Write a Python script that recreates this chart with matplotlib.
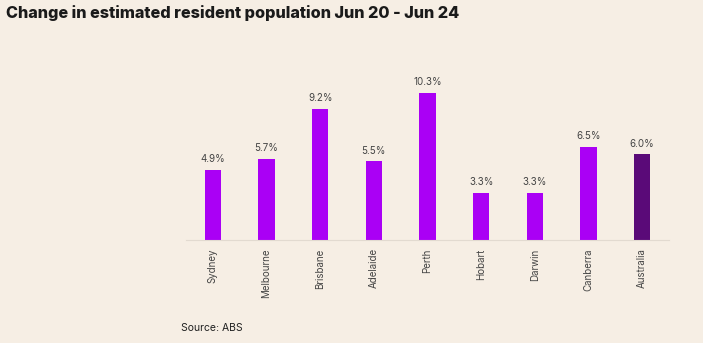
import matplotlib
matplotlib.use('Agg')
import matplotlib.pyplot as plt

cities = ['Sydney', 'Melbourne', 'Brisbane', 'Adelaide', 'Perth', 'Hobart', 'Darwin', 'Canberra', 'Australia']
growth = [4.9, 5.7, 9.2, 5.5, 10.3, 3.3, 3.3, 6.5, 6.0]

bg = '#f6eee4'
colors = ['#aa00f5'] * 8 + ['#5a0a78']

plt.rcParams['font.family'] = ['Inter', 'DejaVu Sans']

fig = plt.figure(figsize=(7.03, 3.43), dpi=100, facecolor=bg)
ax = fig.add_axes([0.2646, 0.3003, 0.687, 0.5248], facecolor=bg)

bars = ax.bar(range(len(cities)), growth, width=0.3, color=colors)
for bar, v in zip(bars, growth):
    ax.text(bar.get_x() + bar.get_width() / 2, v + 0.4, f'{v:.1f}%', ha='center', va='bottom',
            fontsize=7, color='#444444')

ax.set_xlim(-0.5, len(cities) - 0.5)
ax.set_ylim(0, 12.6)
ax.set_yticks([])
ax.set_xticks(range(len(cities)))
ax.set_xticklabels(cities, rotation=90, fontsize=7, color='#444444')
ax.tick_params(axis='x', length=0, pad=6)
for s in ['top', 'right', 'left']:
    ax.spines[s].set_visible(False)
ax.spines['bottom'].set_color('#e2dad0')
ax.spines['bottom'].set_linewidth(0.8)

fig.text(6 / 703, 1 - 13 / 343, 'Change in estimated resident population Jun 20 - Jun 24', fontsize=11.7,
         fontweight='heavy', color='#1a1a1a', va='center', ha='left')
fig.text(181 / 703, 1 - 328 / 343, 'Source: ABS', fontsize=7.5, color='#222222', va='center', ha='left')

plt.savefig('out.png', dpi=100, facecolor=bg)
plt.close()
